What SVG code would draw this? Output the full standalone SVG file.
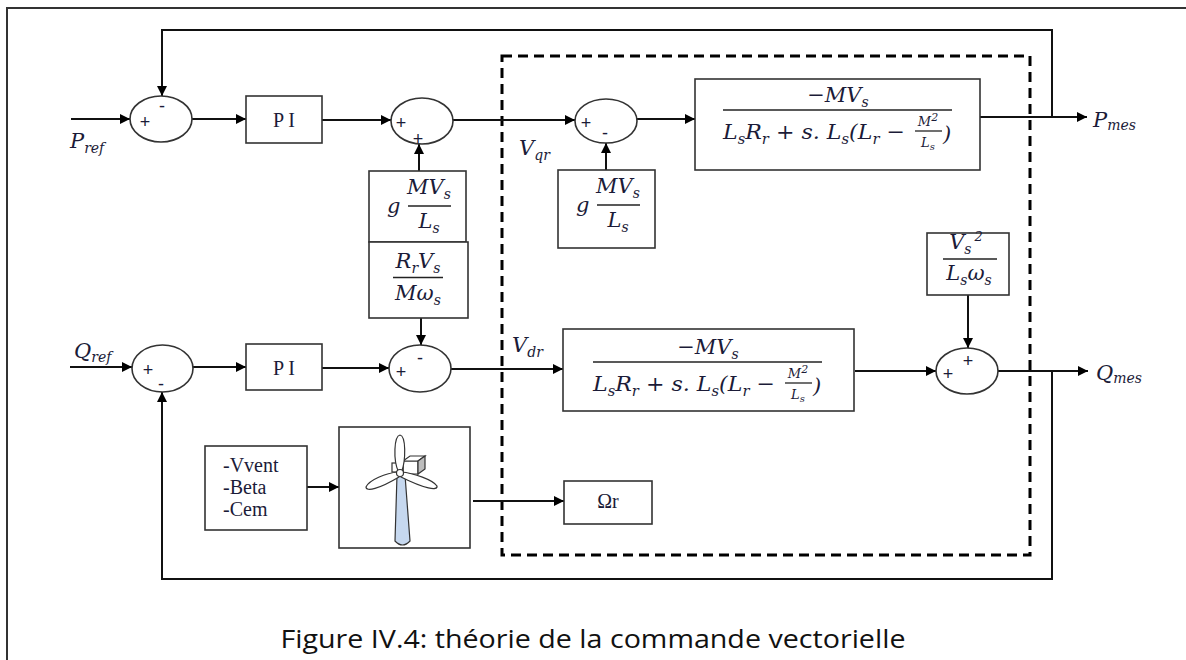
<svg xmlns="http://www.w3.org/2000/svg" width="1186" height="660" viewBox="0 0 1186 660">
  <style>
    .frame { fill: none; stroke: #333; stroke-width: 2; }
    .box { fill: #fff; stroke: #333; stroke-width: 1.6; }
    .sum { fill: #fff; stroke: #333; stroke-width: 1.6; }
    .wire { fill: none; stroke: #111; stroke-width: 2; }
    .arr { marker-end: url(#ah); }
    .dash { fill: none; stroke: #000; stroke-width: 3; stroke-dasharray: 10 6; }
    .fl { stroke: #222; stroke-width: 1.3; }
    .m { font-family: "DejaVu Serif", "Liberation Serif", serif; font-style: italic; font-size: 21px; fill: #1b1b38; }
    .ms { font-family: "DejaVu Serif", "Liberation Serif", serif; font-style: italic; font-size: 13px; fill: #1b1b38; }
    .sb { font-size: 14px; }
    .sup { font-size: 13px; }
    .rm { font-family: "Liberation Serif", "DejaVu Serif", serif; font-size: 20px; fill: #1b1b38; }
    .sg { font-family: "Liberation Sans", "DejaVu Sans", sans-serif; font-size: 18px; fill: #1b1b38; text-anchor: middle; }
    .cap { font-family: "Open Sans", "Liberation Sans", sans-serif; font-size: 25px; fill: #111; }
  </style>
  <defs>
    <marker id="ah" viewBox="0 0 10 10" refX="10" refY="5" markerWidth="11" markerHeight="10" markerUnits="userSpaceOnUse" orient="auto">
      <path d="M0,0 L10,5 L0,10 Z" fill="#000"/>
    </marker>
    <!-- rotor transfer function -MVs / (LsRr + s.Ls(Lr - M^2/Ls)) -->
    <g id="tf-expr">
      <text class="m" x="838" y="102" text-anchor="middle">−MV<tspan class="sb" dy="5">s</tspan></text>
      <line class="fl" x1="723" y1="110" x2="952" y2="110"/>
      <text class="m" x="723" y="139" textLength="182" lengthAdjust="spacingAndGlyphs">L<tspan class="sb" dy="5">s</tspan><tspan dy="-5">R</tspan><tspan class="sb" dy="5">r</tspan><tspan dy="-5"> + s. L</tspan><tspan class="sb" dy="5">s</tspan><tspan dy="-5">(L</tspan><tspan class="sb" dy="5">r</tspan><tspan dy="-5"> −</tspan></text>
      <text class="ms" x="928" y="126" text-anchor="middle">M<tspan font-size="11" dy="-5">2</tspan></text>
      <line class="fl" x1="915" y1="131" x2="942" y2="131"/>
      <text class="ms" x="928" y="147" text-anchor="middle">L<tspan dy="3" font-size="10">s</tspan></text>
      <text class="m" x="943" y="141" font-size="23">)</text>
    </g>
    <!-- gain g.MVs/Ls -->
    <g id="g-gain">
      <text class="m" x="387" y="213" font-size="25">g</text>
      <text class="m" x="429" y="194" text-anchor="middle">MV<tspan class="sb" dy="5">s</tspan></text>
      <line class="fl" x1="408" y1="206" x2="451" y2="206"/>
      <text class="m" x="429" y="228" text-anchor="middle">L<tspan class="sb" dy="5">s</tspan></text>
    </g>
  </defs>

  <rect width="1186" height="660" fill="#fff"/>
  <rect class="frame" x="7" y="8" width="1200" height="700"/>

  <!-- decoupled machine model boundary -->
  <rect id="machine-model" class="dash" x="502" y="56" width="528" height="499"/>

  <g id="connectors">
    <path class="wire arr" d="M71,119 H130"/>
    <path class="wire arr" d="M192,119 H246"/>
    <path class="wire arr" d="M322,120 H391"/>
    <path class="wire arr" d="M453,120 H575"/>
    <path class="wire arr" d="M637,119 H695"/>
    <path class="wire arr" d="M980,117 H1087"/>
    <path class="wire arr" d="M1052,117 V30 H162 V96"/>
    <path class="wire arr" d="M419,171 V144"/>
    <path class="wire arr" d="M606,170 V143"/>
    <path class="wire arr" d="M70,367 H132"/>
    <path class="wire arr" d="M193,367 H246"/>
    <path class="wire arr" d="M322,368 H389"/>
    <path class="wire arr" d="M421,318 V345"/>
    <path class="wire arr" d="M451,369 H563"/>
    <path class="wire arr" d="M855,371 H936"/>
    <path class="wire arr" d="M968,295 V348"/>
    <path class="wire arr" d="M998,371 H1088"/>
    <path class="wire arr" d="M1052,371 V579 H162 V392"/>
    <path class="wire arr" d="M307,487 H339"/>
    <path class="wire arr" d="M473,501 H564"/>
  </g>

  <!-- P axis -->
  <g id="label-pref"><text class="m" x="70" y="148" font-size="23">P<tspan class="sb" dy="5">ref</tspan></text></g>
  <g id="sum-p">
    <ellipse class="sum" cx="161" cy="119" rx="31" ry="23"/>
    <text class="sg" x="145" y="128">+</text>
    <text class="sg" x="162" y="112">-</text>
  </g>
  <g id="pi-p">
    <rect class="box" x="246" y="96" width="76" height="47"/>
    <text class="rm" x="284" y="127" text-anchor="middle">P I</text>
  </g>
  <g id="sum-p2">
    <ellipse class="sum" cx="422" cy="121" rx="31" ry="23"/>
    <text class="sg" x="401" y="129">+</text>
    <text class="sg" x="418" y="145">+</text>
  </g>
  <g id="gain-1">
    <rect class="box" x="369" y="171" width="97" height="71"/>
    <use href="#g-gain"/>
  </g>
  <g id="label-vqr"><text class="m" x="519" y="155">V<tspan class="sb" dy="5">qr</tspan></text></g>
  <g id="sum-p3">
    <ellipse class="sum" cx="606" cy="121" rx="31" ry="22"/>
    <text class="sg" x="586" y="129">+</text>
    <text class="sg" x="605" y="139">-</text>
  </g>
  <g id="gain-2">
    <rect class="box" x="558" y="170" width="97" height="78"/>
    <use href="#g-gain" transform="translate(189,-1)"/>
  </g>
  <g id="tf-p">
    <rect class="box" x="695" y="79" width="285" height="91"/>
    <use href="#tf-expr"/>
  </g>
  <g id="label-pmes"><text class="m" x="1093" y="127" font-size="23">P<tspan class="sb" dy="3">mes</tspan></text></g>

  <!-- Q axis -->
  <g id="label-qref"><text class="m" x="74" y="358" font-size="23">Q<tspan class="sb" dy="4">ref</tspan></text></g>
  <g id="sum-q">
    <ellipse class="sum" cx="162.5" cy="368.5" rx="30.5" ry="23.5"/>
    <text class="sg" x="148" y="376">+</text>
    <text class="sg" x="161" y="390">-</text>
  </g>
  <g id="pi-q">
    <rect class="box" x="246" y="344" width="76" height="46"/>
    <text class="rm" x="284" y="375" text-anchor="middle">P I</text>
  </g>
  <g id="coupling-q">
    <rect class="box" x="369" y="242" width="99" height="76"/>
    <text class="m" x="418" y="268" text-anchor="middle">R<tspan class="sb" dy="5">r</tspan><tspan dy="-5">V</tspan><tspan class="sb" dy="5">s</tspan></text>
    <line class="fl" x1="393" y1="277.5" x2="443" y2="277.5"/>
    <text class="m" x="418" y="300" text-anchor="middle">Mω<tspan class="sb" dy="5">s</tspan></text>
  </g>
  <g id="sum-q2">
    <ellipse class="sum" cx="420" cy="368.5" rx="31" ry="23.5"/>
    <text class="sg" x="401" y="378">+</text>
    <text class="sg" x="420" y="364">-</text>
  </g>
  <g id="label-vdr"><text class="m" x="512" y="352">V<tspan class="sb" dy="5">dr</tspan></text></g>
  <g id="tf-q">
    <rect class="box" x="563" y="329" width="291" height="82"/>
    <use href="#tf-expr" transform="translate(-130,252)"/>
  </g>
  <g id="stator-term">
    <rect class="box" x="927" y="233" width="82" height="62"/>
    <text class="m" x="966" y="249" text-anchor="middle">V<tspan class="sb" dy="5">s</tspan><tspan class="sup" dx="3" dy="-13">2</tspan></text>
    <line class="fl" x1="943" y1="259" x2="997" y2="259"/>
    <text class="m" x="969" y="280" text-anchor="middle">L<tspan class="sb" dy="5">s</tspan><tspan dy="-5">ω</tspan><tspan class="sb" dy="5">s</tspan></text>
  </g>
  <g id="sum-q3">
    <ellipse class="sum" cx="967" cy="371" rx="31" ry="23"/>
    <text class="sg" x="948" y="380">+</text>
    <text class="sg" x="968" y="367">+</text>
  </g>
  <g id="label-qmes"><text class="m" x="1096" y="380" font-size="23">Q<tspan class="sb" dy="3">mes</tspan></text></g>

  <!-- wind turbine branch -->
  <g id="turbine-inputs">
    <rect class="box" x="205" y="446" width="102" height="84"/>
    <text class="rm" x="223" y="472" font-size="18">-Vvent</text>
    <text class="rm" x="223" y="494" font-size="18">-Beta</text>
    <text class="rm" x="223" y="516" font-size="18">-Cem</text>
  </g>
  <g id="turbine">
    <rect class="box" x="339" y="427" width="131" height="121"/>
    <path d="M397,475 L405,475 L410,541 Q402.5,549 395,541 Z" fill="#c6d8ef" stroke="#333" stroke-width="1.2"/>
    <path d="M403,461 L418,461 L418,474 L403,474 Z" fill="#fff" stroke="#333" stroke-width="1.2"/>
    <path d="M403,461 L410,456 L425,456 L418,461 Z" fill="#fff" stroke="#333" stroke-width="1.2"/>
    <path d="M418,461 L425,456 L425,469 L418,474 Z" fill="#bdbdbd" stroke="#333" stroke-width="1.2"/>
    <rect x="392" y="463" width="11" height="9" fill="#fff" stroke="#333" stroke-width="1.2"/>
    <path d="M398.5,472 C393,460 394,436 400,435 C406,436 406,460 401.5,472 Z" fill="#fff" stroke="#333" stroke-width="1.2"/>
    <path d="M398,472 C386,473 369,480 366,487 C366,492 379,489 399,477 Z" fill="#fff" stroke="#333" stroke-width="1.2"/>
    <path d="M401,472 C414,473 433,480 437,486 C438,491 425,489 401,477 Z" fill="#fff" stroke="#333" stroke-width="1.2"/>
    <circle cx="400" cy="473" r="3.5" fill="#fff" stroke="#333" stroke-width="1.2"/>
  </g>
  <g id="rotor-speed">
    <rect class="box" x="564" y="481" width="88" height="43"/>
    <text class="rm" x="608" y="508" text-anchor="middle" font-size="17">Ωr</text>
  </g>

  <text class="cap" x="593" y="648" text-anchor="middle" textLength="625" lengthAdjust="spacingAndGlyphs">Figure IV.4: théorie de la commande vectorielle</text>
</svg>
